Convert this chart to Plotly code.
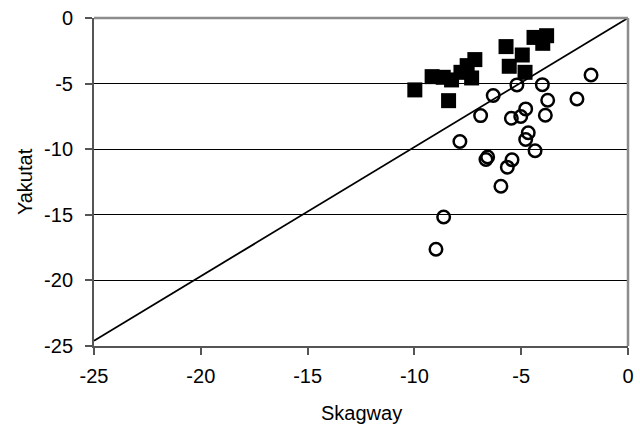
import plotly.graph_objects as go

# Filled squares series
sq_x = [-9.98, -8.4, -9.17, -8.65, -8.26, -7.82, -7.53, -7.17, -7.32, -5.71, -5.56, -4.95, -4.82, -4.4, -3.81, -3.99]
sq_y = [-5.48, -6.3, -4.47, -4.52, -4.72, -4.14, -3.63, -3.17, -4.57, -2.18, -3.68, -2.82, -4.14, -1.48, -1.35, -1.93]

# Open circles series
ci_x = [-1.73, -4.01, -5.2, -6.31, -2.39, -3.76, -4.79, -6.9, -5.46, -5.02, -3.87, -4.67, -4.79, -4.35,
        -7.87, -6.57, -6.65, -5.43, -5.65, -5.95, -8.63, -8.99]
ci_y = [-4.34, -5.08, -5.1, -5.91, -6.17, -6.27, -6.93, -7.44, -7.64, -7.51, -7.41, -8.75, -9.26, -10.12,
        -9.41, -10.6, -10.78, -10.81, -11.37, -12.82, -15.17, -17.63]

# Reference line
line_x = [-25, 0]
line_y = [-24.6, 0]

ticks = [-25, -20, -15, -10, -5, 0]
tick_labels = ["-25", "-20", "-15", "-10", "-5", "0"]

FONT = "Liberation Sans, Arial, sans-serif"

fig = go.Figure()
fig.add_trace(go.Scatter(x=line_x, y=line_y, mode="lines",
                         line=dict(color="black", width=1.8), showlegend=False, hoverinfo="skip"))
fig.add_trace(go.Scatter(x=ci_x, y=ci_y, mode="markers",
                         marker=dict(symbol="circle-open", size=12.5, color="black", line=dict(width=2.5)),
                         showlegend=False))
fig.add_trace(go.Scatter(x=sq_x, y=sq_y, mode="markers",
                         marker=dict(symbol="square", size=15, color="black"),
                         showlegend=False))

fig.update_layout(
    width=640, height=428, autosize=False,
    margin=dict(l=94, r=12, t=18, b=82),
    paper_bgcolor="white", plot_bgcolor="white",
    font=dict(family=FONT, size=20, color="black"),
    shapes=[
        dict(type="line", xref="paper", yref="paper", x0=0, y0=1, x1=1, y1=1,
             line=dict(color="#8c8c8c", width=2.5), layer="above"),
        dict(type="line", xref="paper", yref="paper", x0=1, y0=0, x1=1, y1=1,
             line=dict(color="#8c8c8c", width=2.5), layer="above"),
    ],
    annotations=[
        dict(text="Skagway", xref="paper", yref="paper", x=0.5, y=-0.205, yanchor="middle",
             xanchor="center", showarrow=False, font=dict(family=FONT, size=20, color="black")),
        dict(text="Yakutat", xref="paper", yref="paper", x=-0.129, y=0.5, xanchor="center",
             yanchor="middle", textangle=-90, showarrow=False, font=dict(family=FONT, size=20, color="black")),
    ],
)
fig.update_xaxes(range=[-25, 0], tickvals=ticks, ticktext=tick_labels, ticks="outside", ticklen=7,
                 tickcolor="#555555", tickwidth=1.5,
                 showgrid=False, zeroline=False, showline=True, linecolor="#555555", linewidth=2,
                 automargin=False, ticklabelstandoff=4, tickfont=dict(size=20))
fig.update_yaxes(range=[-25, 0], tickvals=ticks, ticktext=tick_labels, ticks="outside", ticklen=7,
                 tickcolor="#555555", tickwidth=1.5,
                 showgrid=True, gridcolor="black", gridwidth=1, zeroline=False,
                 showline=True, linecolor="#555555", linewidth=2,
                 automargin=False, ticklabelstandoff=8, tickfont=dict(size=20))

fig.write_html("out.html", config={"displayModeBar": False},
               post_script="document.body.style.margin='0px';")
